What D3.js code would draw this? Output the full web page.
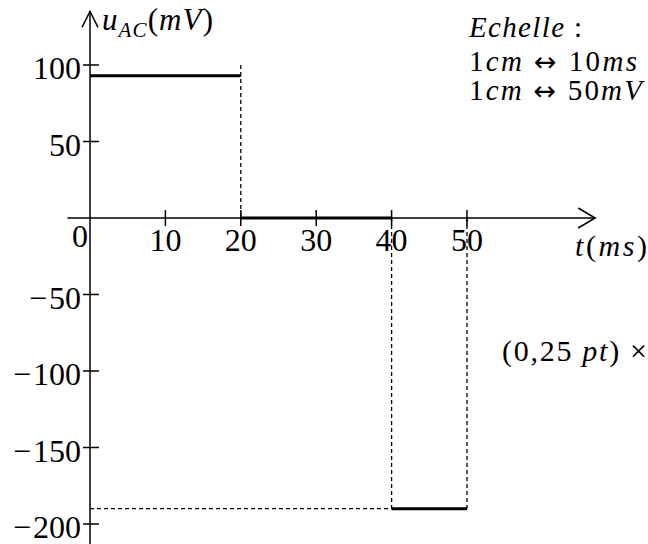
<!DOCTYPE HTML>
<HTML>
  <HEAD>
    <TITLE>u_AC(t)</TITLE>
    <script src="https://d3js.org/d3.v7.min.js" charset="utf-8"></script>
    <style>
      body { margin: 0; background: white; }
      text { font-family: "Liberation Serif", "Times New Roman", serif; fill: black; }
    </style>
  </HEAD>
  <BODY>

  <script type="text/javascript">

  // values
  var xTicks = [10, 20, 30, 40, 50];
  var xTickLabels = [0, 10, 20, 30, 40, 50];
  var yTicks = [100, 50, -50, -100, -150, -200];

  // signal: [t start, t end, u]
  var segStart = [0, 20, 40];
  var segEnd = [20, 40, 50];
  var segValue = [93, 0, -190];

  var w = 648;
  var h = 544;

  var svg = d3.select("body").append("svg")
    .attr("width", w)
    .attr("height", h);

  var x = d3.scaleLinear().domain([0, 50]).range([90, 467]);
  var y = d3.scaleLinear().domain([-200, 100]).range([524, 65]);

  var segments = segStart.map(function(s, i) {
    return {t0: s, t1: segEnd[i], u: segValue[i]};
  });

  // dashed guides
  var guides = [
    {x1: 20, y1: 100, x2: 20, y2: 0},
    {x1: 40, y1: 0, x2: 40, y2: segValue[2]},
    {x1: 50, y1: 0, x2: 50, y2: segValue[2]},
    {x1: 0, y1: segValue[2], x2: 40, y2: segValue[2]}
  ];

  svg.selectAll("line.guide")
    .data(guides)
    .enter()
    .append("line")
    .attr("class", "guide")
    .attr("x1", function(d) { return x(d.x1); })
    .attr("y1", function(d) { return y(d.y1); })
    .attr("x2", function(d) { return x(d.x2); })
    .attr("y2", function(d) { return y(d.y2); })
    .attr("stroke", "black")
    .attr("stroke-width", 1.3)
    .attr("stroke-dasharray", "4,3");

  // axes
  var axisG = svg.append("g")
    .attr("stroke", "black")
    .attr("stroke-width", 1.5)
    .attr("fill", "none");

  axisG.append("line")
    .attr("x1", x(-3)).attr("y1", y(0))
    .attr("x2", x(67)).attr("y2", y(0));

  axisG.append("path")
    .attr("d", "M" + (x(67) - 17) + "," + (y(0) - 10) + "L" + x(67) + "," + y(0) +
               "L" + (x(67) - 17) + "," + (y(0) + 10));

  axisG.append("line")
    .attr("x1", x(0)).attr("y1", y(135))
    .attr("x2", x(0)).attr("y2", h);

  axisG.append("path")
    .attr("d", "M" + (x(0) - 8) + "," + (y(135) + 16) + "L" + x(0) + "," + y(135) +
               "L" + (x(0) + 8) + "," + (y(135) + 16));

  axisG.selectAll("line.xtick")
    .data(xTicks)
    .enter()
    .append("line")
    .attr("class", "xtick")
    .attr("x1", function(d) { return x(d); })
    .attr("x2", function(d) { return x(d); })
    .attr("y1", y(0) - 8)
    .attr("y2", y(0) + 8);

  axisG.selectAll("line.ytick")
    .data(yTicks)
    .enter()
    .append("line")
    .attr("class", "ytick")
    .attr("x1", x(0) - 7)
    .attr("x2", x(0) + 9)
    .attr("y1", function(d) { return y(d); })
    .attr("y2", function(d) { return y(d); });

  // signal
  svg.selectAll("line.seg")
    .data(segments)
    .enter()
    .append("line")
    .attr("class", "seg")
    .attr("x1", function(d) { return x(d.t0); })
    .attr("x2", function(d) { return x(d.t1); })
    .attr("y1", function(d) { return y(d.u); })
    .attr("y2", function(d) { return y(d.u); })
    .attr("stroke", "black")
    .attr("stroke-width", 3);

  // tick labels
  svg.selectAll("text.xlab")
    .data(xTickLabels)
    .enter()
    .append("text")
    .attr("class", "xlab")
    .attr("x", function(d) { return d === 0 ? x(d) - 2 : x(d); })
    .attr("y", function(d) { return d === 0 ? y(0) + 29 : y(0) + 33; })
    .attr("text-anchor", function(d) { return d === 0 ? "end" : "middle"; })
    .attr("font-size", 32)
    .text(function(d) { return d; });

  var ylab = svg.selectAll("text.ylab")
    .data(yTicks)
    .enter()
    .append("text")
    .attr("class", "ylab")
    .attr("x", 81)
    .attr("y", function(d) { return y(d) + 14; })
    .attr("text-anchor", "end")
    .attr("font-size", 32);

  ylab.filter(function(d) { return d < 0; })
    .append("tspan")
    .text("\u2212");

  ylab.append("tspan")
    .attr("dx", function(d) { return d < 0 ? 2 : 0; })
    .text(function(d) { return Math.abs(d); });

  // math-style labels: parts of [text, italic, size, dy, family]
  var addLabel = function(px, py, len, size, parts) {
    var t = svg.append("text")
      .attr("x", px)
      .attr("y", py)
      .attr("font-size", size)
      .attr("textLength", len)
      .attr("lengthAdjust", "spacing");

    parts.forEach(function(p) {
      var s = t.append("tspan")
        .attr("font-style", p[1] ? "italic" : "normal")
        .attr("font-size", p[2] || size)
        .attr("dy", p[3] || 0)
        .text(p[0]);
      if (p[4]) s.style("font-family", p[4]);
    });
  };

  var arrowFont = "DejaVu Sans";

  addLabel(102, 30, 111, 31, [["u", true], ["AC", true, 21, 7], ["(", false, 31, -7], ["mV", true], [")", false]]);
  addLabel(469, 37, 113, 29, [["Echelle", true], [" :", false]]);
  addLabel(469, 71, 168, 29, [["1", false], ["cm", true], [" ", false], ["\u2194", false, 27, 0, arrowFont], [" 10", false], ["ms", true]]);
  addLabel(469, 100, 173, 29, [["1", false], ["cm", true], [" ", false], ["\u2194", false, 27, 0, arrowFont], [" 50", false], ["mV", true]]);
  addLabel(575, 256, 72, 30, [["t", true], ["(", false], ["ms", true], [")", false]]);
  addLabel(502, 361, 145, 30, [["(0,25 ", false], ["pt", true], [") \u00d7", false]]);

  </script>
  </BODY>
</HTML>
